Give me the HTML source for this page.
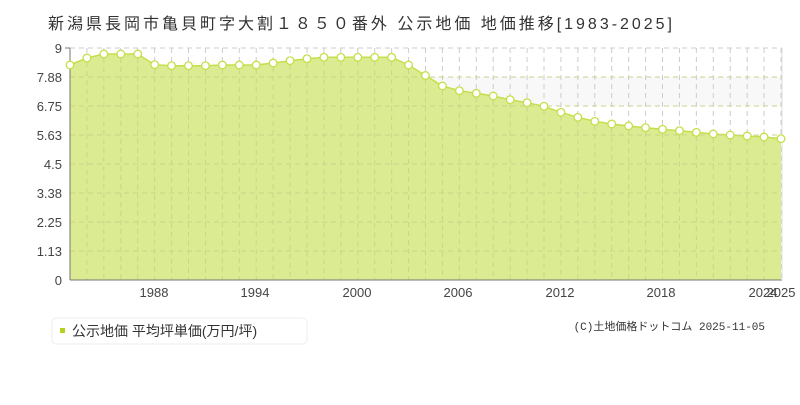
<!DOCTYPE html>
<html><head><meta charset="utf-8"><style>
body{margin:0;background:#fff;width:800px;height:400px;overflow:hidden;font-family:"Liberation Sans","Noto Sans CJK JP",sans-serif}
</style></head><body>
<svg width="800" height="400" xmlns="http://www.w3.org/2000/svg">
<text x="48" y="29" font-size="16" fill="#333" textLength="624" lengthAdjust="spacing" font-family="Liberation Sans,Noto Sans CJK JP,sans-serif">新潟県長岡市亀貝町字大割１８５０番外 公示地価 地価推移[1983-2025]</text>
<rect x="70" y="48" width="712" height="29" fill="#fff"/>
<rect x="70" y="77" width="712" height="29" fill="#f8f8f8"/>
<g id="grid" stroke="#ccc" stroke-dasharray="5,4" stroke-width="1"></g>
<g id="area"></g>
<g font-size="13" fill="#444" text-anchor="end" font-family="Liberation Sans,sans-serif">
<text x="62" y="285">0</text><text x="62" y="256">1.13</text><text x="62" y="227">2.25</text><text x="62" y="198">3.38</text><text x="62" y="169">4.5</text><text x="62" y="140">5.63</text><text x="62" y="111">6.75</text><text x="62" y="82">7.88</text><text x="62" y="53">9</text>
</g>
<g font-size="13" fill="#444" text-anchor="middle" font-family="Liberation Sans,sans-serif">
<text x="154" y="297">1988</text><text x="255" y="297">1994</text><text x="357" y="297">2000</text><text x="458" y="297">2006</text><text x="560" y="297">2012</text><text x="661" y="297">2018</text><text x="763" y="297">2024</text><text x="781" y="297">2025</text>
</g>
<rect x="52" y="318" width="255" height="26" rx="4" fill="#fff" stroke="#eee"/>
<rect x="60" y="328" width="5" height="5" fill="#b5d21e"/>
<text x="72" y="336" font-size="14" fill="#333">公示地価 平均坪単価(万円/坪)</text>
<text x="765" y="330" font-size="11" fill="#333" text-anchor="end" font-family="Liberation Mono,Noto Sans CJK JP,monospace">(C)土地価格ドットコム 2025-11-05</text>
</svg>
<script>
var ys=[65,58,54,54,54,64.7,65.7,65.7,65.7,65,65,65,63,60.7,58.7,57.3,57.3,57.3,57.3,57.3,65,75.5,86,90.7,93.3,96,99.7,102.7,106.3,112.3,117.3,121.3,124,126,127.7,129.3,130.7,132.3,134,135,136,137,138.7];
var ns="http://www.w3.org/2000/svg",g=document.getElementById('grid'),a=document.getElementById('area');
function el(t,at,p){var e=document.createElementNS(ns,t);for(var k in at)e.setAttribute(k,at[k]);p.appendChild(e);return e;}
[48,77,106,135,164,193,222,251].forEach(function(y){el('line',{x1:70,x2:782,y1:y,y2:y},g);});
var X=function(i){return 70+i*(711/42);};
for(var i=1;i<43;i++)el('line',{x1:X(i),x2:X(i),y1:48,y2:280},g);
var d='M70,280';ys.forEach(function(y,i){d+=' L'+X(i).toFixed(1)+','+y;});d+=' L'+X(42)+',280Z';
el('path',{d:d,fill:'#dbeb92'},a);
var l='';ys.forEach(function(y,i){l+=(i?' L':'M')+X(i).toFixed(1)+','+y;});
el('path',{d:l,fill:'none',stroke:'#c5df4a','stroke-width':1.5},a);
[77,106,135,164,193,222,251].forEach(function(y){el('line',{x1:70,x2:782,y1:y,y2:y,stroke:'#c9d58a','stroke-dasharray':'5,4'},a);});
for(var i=1;i<42;i++)el('line',{x1:X(i),x2:X(i),y1:ys[i]+4,y2:280,stroke:'#c9d58a','stroke-dasharray':'5,4'},a);
el('line',{x1:70,x2:70,y1:48,y2:280,stroke:'#777'},a);
el('line',{x1:65,x2:70,y1:48,y2:48,stroke:'#777'},a);
el('line',{x1:70,x2:782,y1:280,y2:280,stroke:'#777'},a);
el('line',{x1:782,x2:782,y1:48,y2:280,stroke:'#ddd'},a);
ys.forEach(function(y,i){el('circle',{cx:X(i),cy:y,r:3.8,fill:'#fff',stroke:'#c5df4a','stroke-width':1.3},a);});
</script>
</body></html>
